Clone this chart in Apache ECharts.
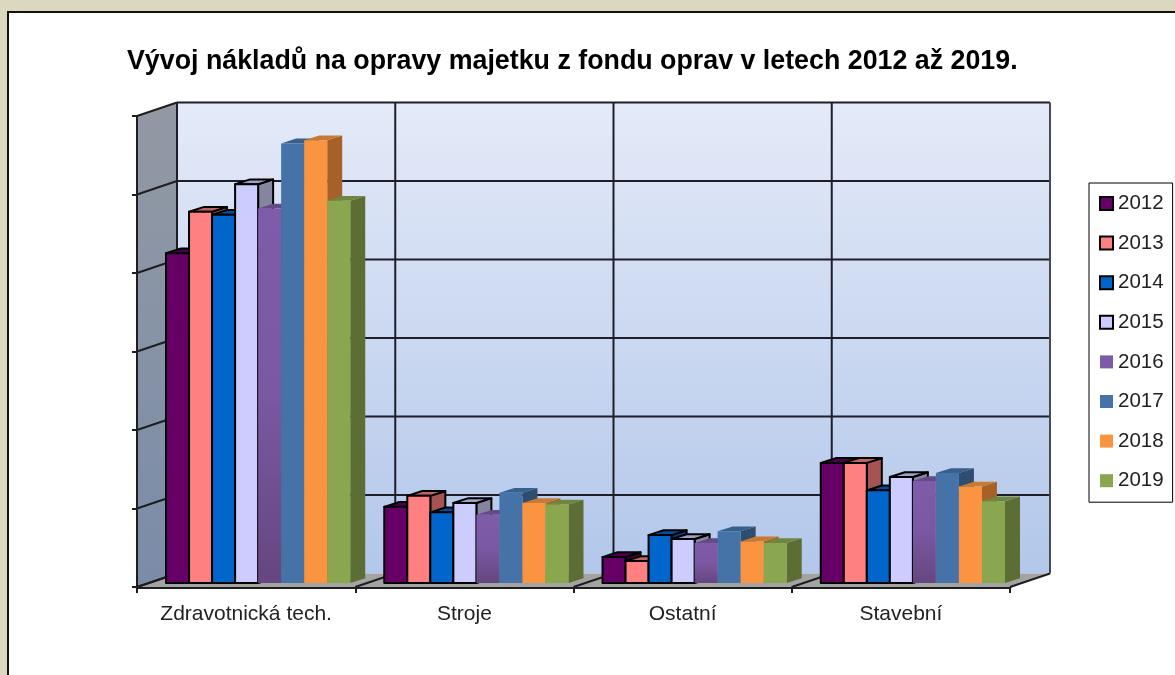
<!DOCTYPE html>
<html><head><meta charset="utf-8">
<style>html,body{margin:0;padding:0;background:#dcd8c0;overflow:hidden}#c{width:1175px;height:675px}</style>
<script src="https://cdn.jsdelivr.net/npm/echarts@6/dist/echarts.min.js"></script>
</head><body><div id="c"></div>
<script>
const categories = ['Zdravotnická tech.', 'Stroje', 'Ostatní', 'Stavební'];
const years = ['2012','2013','2014','2015','2016','2017','2018','2019'];
const values2012 = [4.20, 0.97, 0.33, 1.53];
const values2013 = [4.73, 1.11, 0.28, 1.53];
const values2014 = [4.69, 0.90, 0.61, 1.18];
const values2015 = [5.08, 1.02, 0.56, 1.35];
const values2016 = [4.77, 0.87, 0.51, 1.30];
const values2017 = [5.60, 1.15, 0.66, 1.40];
const values2018 = [5.64, 1.02, 0.53, 1.23];
const values2019 = [4.87, 1.00, 0.51, 1.04];
const allValues = [values2012, values2013, values2014, values2015, values2016, values2017, values2018, values2019];
const yTicks = [0,1,2,3,4,5,6];

const frontColors = ['#660066','#ff8080','#0066cc','#ccccff','#7c5aa6','#4573a7','#fa9440','#8aa64f'];
const sideColors  = ['#3d003d','#a65353','#004085','#85859f','#523b6e','#2e4d70','#a66128','#5c6e34'];
const topColors   = ['#4d004d','#c46262','#004f9e','#9f9fc7','#654a87','#37608d','#c67a33','#6f8640'];
const edgeColors  = ['#000','#000','#000','#000','#7c5aa6','#4573a7','#fa9440','#8aa64f'];
const edgeWidths  = [2,2,2,2,0,0,0,0];

const DX = 40, DY = 13.5;         // wall depth
const BAR_DX = 15, BAR_DY = 4.8;  // bar depth
const OFF_DX = 12, OFF_DY = 4;    // bar offset from front plane
const GROUP_FRAC = 184/218;

function poly(points, fill, stroke, lw, z2){
  return {type:'polygon', z2:z2||0, shape:{points},
    style:{fill, stroke: stroke||'none', lineWidth: lw||0, lineJoin:'round'}};
}
function seg(a,b,color,w){
  return {type:'line', shape:{x1:a[0],y1:a[1],x2:b[0],y2:b[1]},
    style:{stroke:color,lineWidth:w}};
}
function renderWalls(params, api){
  const cs = params.coordSys;
  const x0 = cs.x, x1 = cs.x+cs.width, yB = cs.y+cs.height, yT = cs.y;
  const kids = [];
  const wallGrad = new echarts.graphic.LinearGradient(0,0,0,1,[{offset:0,color:'#e4eaf8'},{offset:1,color:'#b2c7ea'}]);
  const sideGrad = new echarts.graphic.LinearGradient(0,0,0,1,[{offset:0,color:'#9399a3'},{offset:1,color:'#7a8ca9'}]);
  kids.push(poly([[x0+DX,yT-DY],[x1+DX,yT-DY],[x1+DX,yB-DY],[x0+DX,yB-DY]], wallGrad));
  kids.push(poly([[x0,yT],[x0+DX,yT-DY],[x0+DX,yB-DY],[x0,yB]], sideGrad));
  kids.push(poly([[x0,yB],[x0+DX,yB-DY],[x1+DX,yB-DY],[x1,yB]], '#a3a3a3'));
  yTicks.forEach(t=>{
    const y = api.coord([0,t])[1];
    if (t>0) kids.push(seg([x0+DX,y-DY],[x1+DX,y-DY],'#1e1e2a',2));
    kids.push(seg([x0,y],[x0+DX,y-DY],'#1e1e1e',2));
  });
  const band = cs.width/categories.length;
  for(let i=0;i<=categories.length;i++){
    const x = x0+band*i;
    kids.push(seg([x+DX,yT-DY],[x+DX,yB-DY], i===categories.length?'#4a4a55':'#1e1e2a',2));
    kids.push(seg([x,yB],[x+DX,yB-DY],'#1e1e1e',2));
  }
  kids.push(seg([x0,yT],[x0,yB],'#1e1e1e',2));
  return {type:'group',children:kids};
}
function barRenderer(idx){
  return function(params, api){
    const c = api.coord([api.value(0), api.value(1)]);
    const base = api.coord([api.value(0), 0]);
    const band = api.size([1,0])[0];
    const w = band*GROUP_FRAC/years.length;
    const l = c[0]-band*GROUP_FRAC/2 + idx*w + OFF_DX;
    const r = l+w;
    const t = c[1]-OFF_DY, b = base[1]-OFF_DY;
    const s = edgeColors[idx], lw = edgeWidths[idx];
    let fill = frontColors[idx];
    if(idx===4){
      fill = new echarts.graphic.LinearGradient(0,0,0,1,[{offset:0,color:'#7f5ca9'},{offset:0.5,color:'#7a58a2'},{offset:1,color:'#66467f'}]);
    }
    return {type:'group',children:[
      poly([[r,b],[r+BAR_DX,b-BAR_DY],[r+BAR_DX,t-BAR_DY],[r,t]], sideColors[idx], lw?s:null, lw),
      poly([[l,t],[l+BAR_DX,t-BAR_DY],[r+BAR_DX,t-BAR_DY],[r,t]], topColors[idx], lw?s:null, lw),
      poly([[l,t],[r,t],[r,b],[l,b]], fill, lw?s:null, lw)
    ]};
  };
}
const series = [{
  type:'custom', name:'walls', silent:true, z:1,
  data:[[0,0]], renderItem:renderWalls, clip:false
}];
years.forEach((y,i)=>{
  series.push({
    type:'custom', name:y, z:2+i, clip:false,
    itemStyle:{color:frontColors[i], borderColor:edgeColors[i], borderWidth:edgeWidths[i]},
    data: allValues[i].map((v,k)=>[k,v]),
    encode:{x:0,y:1},
    renderItem:barRenderer(i)
  });
});
const chart = echarts.init(document.getElementById('c'));
chart.setOption({
  animation:false,
  backgroundColor:'#dcd8c0',
  graphic:[{type:'rect',z:-10,shape:{x:8,y:12,width:1300,height:800},
    style:{fill:'#fff',stroke:'#111',lineWidth:2}}],
  title:{text:'Vývoj nákladů na opravy majetku z fondu oprav v letech 2012 až 2019.',
    left:122, top:43, textStyle:{fontFamily:'Liberation Sans',fontSize:26.8,fontWeight:'bold',color:'#000'}},
  grid:{left:137,right:165,top:116,bottom:88},
  xAxis:{type:'category',data:categories,
    axisLine:{show:true,lineStyle:{color:'#1e1e1e',width:3}},
    axisTick:{show:true,alignWithLabel:false,length:6,lineStyle:{color:'#1e1e1e',width:2}},
    axisLabel:{fontFamily:'Liberation Sans',fontSize:21,color:'#222',margin:17,interval:0,hideOverlap:false},
    splitLine:{show:false}},
  yAxis:{type:'value',min:0,max:6,interval:1,
    axisLine:{show:true,lineStyle:{color:'#1e1e1e',width:2}},
    axisTick:{show:true,length:5,lineStyle:{color:'#1e1e1e',width:2}},
    axisLabel:{show:false},splitLine:{show:false}},
  legend:{orient:'vertical',left:1089,top:183,data:years,icon:'rect',
    itemWidth:13,itemHeight:13,itemGap:18.6,
    padding:[10,9,11,10],
    backgroundColor:'#fff',borderColor:'#000',borderWidth:1,borderRadius:0,
    textStyle:{fontFamily:'Liberation Sans',fontSize:20.5,color:'#222'},
    selectedMode:false},
  series
});
</script></body></html>
